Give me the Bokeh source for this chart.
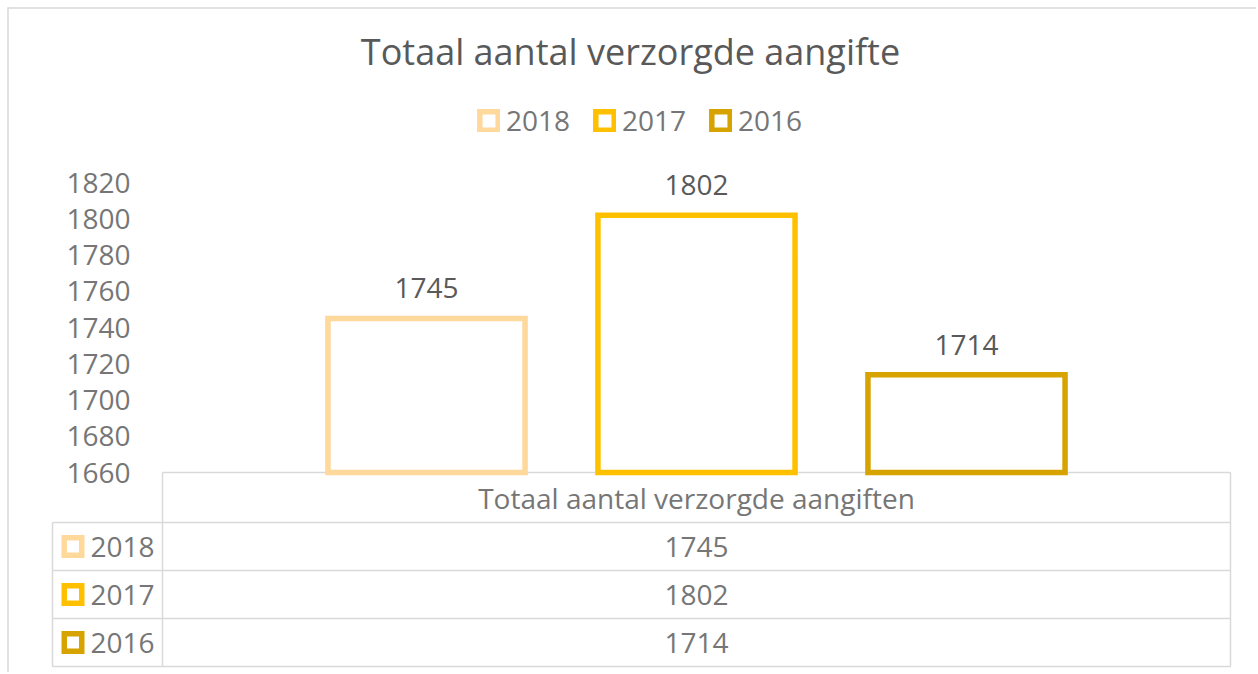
from bokeh.plotting import figure
from bokeh.models import ColumnDataSource, Range1d, FixedTicker, LabelSet
from bokeh.embed import file_html
from bokeh.resources import INLINE
from bokeh.core.properties import value

# ---- data ----
chart_title = "Totaal aantal verzorgde aangifte"
category = "Totaal aantal verzorgde aangiften"
years = ["2018", "2017", "2016"]
counts = [1745, 1802, 1714]
colors = ["#FFD89B", "#FFC000", "#D6A300"]
y_ticks = [1660, 1680, 1700, 1720, 1740, 1760, 1780, 1800, 1820]

FONT = "Open Sans"
DARK = "#595959"
GRAY = "#767676"
GRID = "#d9d9d9"
FS = "28px"

idx = list(range(len(years)))
src = ColumnDataSource(dict(i=idx, year=years, count=counts, color=colors,
                            label=[str(c) for c in counts]))

# ---- canvas geometry (pixels) ----
W, H = 1256, 672
PX0, PY0 = 0, 0
plot_left, plot_right = 162, 1230  # plot area
plot_top, plot_bottom = 182, 472
slot = 270                         # px per category slot

upp = (y_ticks[-1] - y_ticks[0]) / (plot_bottom - plot_top)
y_start = y_ticks[0] - (PY0 + H - plot_bottom) * upp
y_end = y_ticks[-1] + (plot_top - PY0) * upp
first_center = (plot_left + plot_right) / 2 - slot
x_start = (PX0 - first_center) / slot
x_end = (PX0 + W - first_center) / slot

p = figure(width=W, height=H,
           x_range=Range1d(x_start, x_end),
           y_range=Range1d(y_start, y_end),
           output_backend="svg", toolbar_location=None,
           x_axis_location=None,
           min_border=0, min_border_left=0, min_border_right=0,
           min_border_top=0, min_border_bottom=0,
           outline_line_color=None)
p.extra_x_ranges = {"px": Range1d(PX0, PX0 + W)}
p.extra_y_ranges = {"px": Range1d(PY0 + H, PY0)}
p.grid.visible = False

p.yaxis.ticker = FixedTicker(ticks=y_ticks)
p.yaxis.axis_line_color = None
p.yaxis.major_tick_line_color = None
p.yaxis.minor_tick_line_color = None
p.yaxis.major_tick_out = 0
p.yaxis.major_tick_in = 0
p.yaxis.major_label_standoff = PX0 - 130
p.yaxis.major_label_text_font = FONT
p.yaxis.major_label_text_font_size = FS
p.yaxis.major_label_text_color = GRAY

# chart border (top / left)
p.segment(x0=[7.5, 7], y0=[7, 7.5], x1=[7.5, PX0 + W], y1=[PY0 + H, 7.5],
          line_color=GRID, line_width=1.5,
          x_range_name="px", y_range_name="px")

# bars
p.vbar(x="i", top="count", bottom=y_ticks[0], width=0.73, source=src,
       fill_color="white", line_color="color", line_width=5.5,
       line_join="miter", legend_field="year")

p.add_layout(LabelSet(x="i", y="count", text="label", source=src,
                      text_align="center", text_baseline="alphabetic",
                      y_offset=20, text_font=value(FONT),
                      text_font_size=FS, text_color=DARK))

# title
p.text(x=[630], y=[51], text=[chart_title],
       text_align="center", text_baseline="alphabetic",
       text_font=value(FONT), text_font_size="36px", text_color=DARK,
       x_range_name="px", y_range_name="px")

# legend
lg = p.legend[0]
lg.location = (477 - PX0, PY0 + H - 139)
lg.orientation = "horizontal"
lg.border_line_color = None
lg.background_fill_alpha = 0
lg.padding = 0
lg.margin = 0
lg.spacing = 23
lg.glyph_width = 23
lg.glyph_height = 23
lg.label_standoff = 6
lg.label_text_font = FONT
lg.label_text_font_size = FS
lg.label_text_color = GRAY

# ---- data table ----
tbl_left, tbl_split, tbl_right = 52, plot_left, plot_right
tbl_top, header_h, row_h = plot_bottom, 50, 48
n = len(years)
row_lines = [tbl_top + header_h + i * row_h for i in range(n + 1)]
row_mid = [tbl_top + header_h + (i + 0.5) * row_h for i in range(n)]
val_x = (tbl_split + tbl_right) / 2

x0 = [tbl_split] + [tbl_left] * (n + 1) + [tbl_split, tbl_right, tbl_left]
x1 = [tbl_right] + [tbl_right] * (n + 1) + [tbl_split, tbl_right, tbl_left]
y0 = [tbl_top] + row_lines + [tbl_top, tbl_top, row_lines[0]]
y1 = [tbl_top] + row_lines + [row_lines[-1], row_lines[-1], row_lines[-1]]
p.segment(x0=x0, y0=y0, x1=x1, y1=y1, line_color=GRID, line_width=1.5,
          x_range_name="px", y_range_name="px", level="underlay")

p.text(x=[val_x], y=[tbl_top + header_h / 2], text=[category],
       text_align="center", text_baseline="middle",
       text_font=value(FONT), text_font_size=FS, text_color=GRAY,
       x_range_name="px", y_range_name="px")
p.text(x=[val_x] * n, y=row_mid, text=[str(c) for c in counts],
       text_align="center", text_baseline="middle",
       text_font=value(FONT), text_font_size=FS, text_color=GRAY,
       x_range_name="px", y_range_name="px")
p.text(x=[tbl_left + 38] * n, y=row_mid, text=years,
       text_align="left", text_baseline="middle",
       text_font=value(FONT), text_font_size=FS, text_color=GRAY,
       x_range_name="px", y_range_name="px")
p.rect(x=[tbl_left + 20.5] * n, y=row_mid, width=17.5, height=17.5,
       width_units="screen", height_units="screen",
       fill_color="white", line_color=colors, line_width=5.5, line_join="miter",
       x_range_name="px", y_range_name="px")

open("out.html", "w").write(file_html(p, INLINE))
